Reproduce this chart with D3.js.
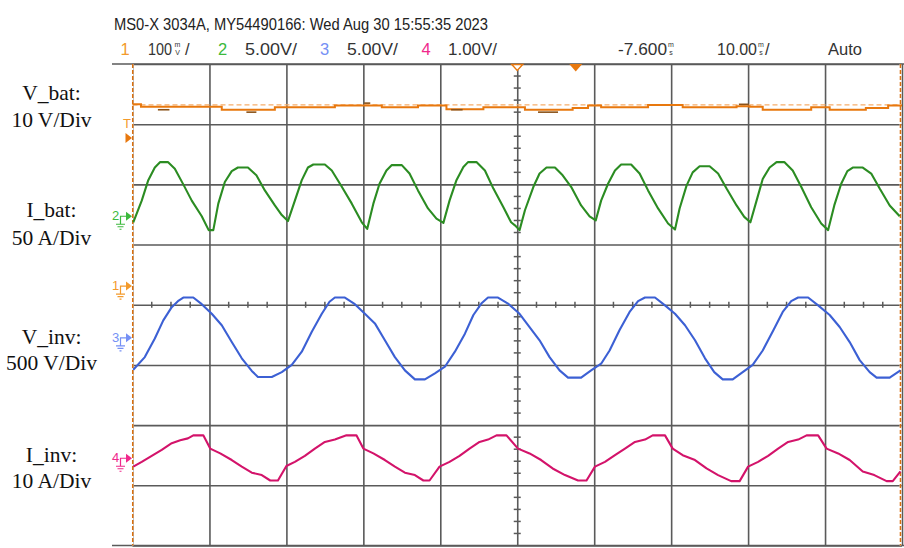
<!DOCTYPE html>
<html>
<head>
<meta charset="utf-8">
<script src="https://cdn.jsdelivr.net/npm/d3@7"></script>
<style>
  body { margin: 0; background: #fff; }
  svg { display: block; }
</style>
</head>
<body>
<svg width="904" height="548"></svg>
<script>
// time in ms across the screen (10 ms/div), values in screen divisions
const vBat = [[0,3.33],[1.1,3.29],[11.6,3.24],[18.5,3.28],[26.3,3.31],[32.4,3.28],[37.1,3.31],[40.8,3.25],[45.6,3.28],[51.0,3.24],[57.2,3.27],[59.2,3.31],[60.9,3.28],[67.0,3.32],[71.5,3.28],[78.5,3.30],[80.2,3.29],[81.9,3.24],[88.2,3.28],[90.6,3.24],[95.3,3.27],[98.2,3.31],[100,3.31]];
const vBatDark = [[3.3,4.8,3.24],[14.8,16.1,3.20],[30.1,30.9,3.35],[41.4,42.9,3.24],[52.7,55.3,3.20],[78.8,80.1,3.33]];
const vBatRef = 3.32;

const iBat = [[0.1,1.37],[1.2,1.73],[2.05,2.07],[2.9,2.28],[3.6,2.37],[4.6,2.37],[5.5,2.26],[6.6,2.0],[7.7,1.73],[9.0,1.47],[9.9,1.24],[10.5,1.24],[11.15,1.68],[12.0,2.04],[12.9,2.22],[13.7,2.28],[15.0,2.28],[16.1,2.15],[17.2,1.9],[18.5,1.65],[19.4,1.49],[20.2,1.39],[21.1,1.73],[22.0,2.07],[22.8,2.28],[23.5,2.33],[25.0,2.33],[25.9,2.23],[27.2,1.96],[28.5,1.68],[29.8,1.37],[30.5,1.26],[31.3,1.68],[32.1,2.01],[33.0,2.23],[33.7,2.32],[35.0,2.32],[36.0,2.18],[37.1,1.90],[38.4,1.60],[39.5,1.43],[40.4,1.36],[41.2,1.73],[42.1,2.07],[43.0,2.29],[43.6,2.37],[44.7,2.37],[45.8,2.23],[46.9,1.93],[48.2,1.62],[49.2,1.37],[49.7,1.32],[50.3,1.24],[51.0,1.57],[52.1,1.96],[52.9,2.18],[53.8,2.28],[54.9,2.28],[55.9,2.15],[57.0,1.96],[58.3,1.65],[59.4,1.47],[60.2,1.40],[60.9,1.73],[61.8,2.01],[62.7,2.23],[63.5,2.33],[64.8,2.33],[65.9,2.18],[67.0,1.90],[68.3,1.60],[69.6,1.35],[70.5,1.25],[71.1,1.60],[72.0,1.98],[72.8,2.20],[73.7,2.30],[75.0,2.30],[76.1,2.18],[77.2,1.93],[78.5,1.65],[79.5,1.46],[80.3,1.37],[81.1,1.73],[81.9,2.09],[82.8,2.28],[83.7,2.37],[84.7,2.37],[85.8,2.23],[86.9,1.96],[88.2,1.62],[89.5,1.35],[90.4,1.24],[91.2,1.65],[92.1,2.01],[92.9,2.22],[93.6,2.28],[94.9,2.28],[96.0,2.18],[97.1,1.93],[98.4,1.65],[99.7,1.47]];

const vInv = [[0.1,-1.08],[1.6,-0.87],[2.9,-0.56],[4.0,-0.26],[5.1,-0.04],[6.0,0.07],[6.6,0.12],[7.9,0.12],[9.0,0.01],[10.3,-0.15],[11.6,-0.34],[12.9,-0.62],[14.2,-0.89],[15.5,-1.10],[16.3,-1.20],[18.1,-1.20],[19.4,-1.12],[20.7,-1.00],[22.0,-0.78],[23.3,-0.45],[24.6,-0.15],[25.6,0.05],[26.3,0.12],[27.6,0.12],[28.9,0.01],[30.2,-0.15],[31.5,-0.31],[32.8,-0.59],[34.1,-0.87],[35.4,-1.09],[36.7,-1.24],[38.0,-1.24],[39.3,-1.14],[40.6,-1.03],[41.9,-0.78],[43.2,-0.48],[44.3,-0.17],[45.4,0.03],[46.2,0.12],[47.5,0.12],[48.8,0.02],[50.3,-0.15],[51.6,-0.37],[52.9,-0.59],[54.2,-0.87],[55.5,-1.09],[56.6,-1.21],[58.3,-1.21],[59.6,-1.09],[60.9,-0.98],[62.0,-0.76],[63.3,-0.42],[64.6,-0.12],[65.7,0.06],[66.6,0.12],[67.9,0.12],[69.2,-0.01],[70.5,-0.15],[71.8,-0.34],[73.1,-0.59],[74.4,-0.89],[75.6,-1.12],[76.7,-1.24],[78.0,-1.24],[79.3,-1.12],[80.6,-1.00],[81.9,-0.76],[83.3,-0.42],[84.5,-0.12],[85.6,0.06],[86.5,0.12],[87.8,0.12],[89.1,-0.01],[90.6,-0.17],[91.9,-0.37],[93.2,-0.62],[94.5,-0.92],[95.8,-1.12],[96.7,-1.21],[98.4,-1.21],[99.8,-1.09]];

const iInv = [[0.1,-2.69],[1.2,-2.61],[2.5,-2.51],[3.8,-2.41],[5.1,-2.30],[6.2,-2.25],[7.2,-2.22],[7.9,-2.17],[9.2,-2.17],[10.1,-2.39],[11.4,-2.47],[12.9,-2.58],[14.2,-2.69],[15.5,-2.79],[16.8,-2.83],[17.9,-2.92],[18.9,-2.92],[20.0,-2.68],[21.1,-2.61],[22.4,-2.51],[23.7,-2.39],[25.0,-2.28],[26.3,-2.24],[27.8,-2.17],[29.1,-2.17],[30.0,-2.39],[31.3,-2.47],[32.8,-2.58],[34.1,-2.69],[35.4,-2.79],[36.7,-2.83],[37.8,-2.92],[38.6,-2.92],[39.9,-2.69],[41.2,-2.61],[42.5,-2.51],[43.8,-2.39],[45.1,-2.28],[46.2,-2.24],[47.3,-2.17],[48.6,-2.17],[50.1,-2.39],[51.6,-2.47],[53.1,-2.58],[54.6,-2.72],[56.2,-2.83],[57.9,-2.92],[59.0,-2.92],[60.1,-2.69],[61.4,-2.61],[62.7,-2.50],[64.0,-2.39],[65.3,-2.28],[66.6,-2.24],[67.6,-2.17],[69.2,-2.17],[70.2,-2.39],[71.5,-2.50],[73.1,-2.58],[74.6,-2.72],[76.1,-2.83],[77.8,-2.93],[78.9,-2.93],[80.0,-2.69],[81.3,-2.61],[82.6,-2.51],[83.9,-2.39],[85.2,-2.28],[86.5,-2.24],[87.6,-2.17],[89.1,-2.17],[90.2,-2.39],[91.7,-2.47],[93.2,-2.58],[94.9,-2.77],[96.4,-2.83],[98.0,-2.93],[98.8,-2.93],[99.8,-2.77]];

// channel ground markers (division) and trigger level
const channels = ["1", "2", "3", "4"];
const chColors = ["#f39a2c", "#3cb93c", "#7590f5", "#f0288c"];
const traceColors = ["#e8780e", "#2b8c22", "#3c60d4", "#d3136a"];
const chGround = [0.31, 1.47, -0.55, -2.55];
const trigLevel = 2.77;
const delayMs = 7.6;

const header = "MS0-X 3034A, MY54490166: Wed Aug 30 15:55:35 2023";
const scaleTexts = ["100", "5.00V/", "5.00V/", "1.00V/"];
const labels = [["V_bat:", "10 V/Div"], ["I_bat:", "50 A/Div"], ["V_inv:", "500 V/Div"], ["I_inv:", "10 A/Div"]];

const svg = d3.select("svg");

const x = d3.scaleLinear().domain([0, 100]).range([132.5, 902]);
const y = d3.scaleLinear().domain([-4, 4]).range([545.5, 64]);

const gridColor = "#5a5a5a";

// grid via axes
const gx = svg.append("g")
    .attr("transform", `translate(0,${y(-4)})`)
    .call(d3.axisTop(x).tickValues(d3.range(0, 101, 10)).tickSize(y(-4) - y(4)).tickFormat(""));
const gy = svg.append("g")
    .attr("transform", `translate(${x(0)},0)`)
    .call(d3.axisRight(y).tickValues(d3.range(-4, 5, 1)).tickSize(x(100) - x(0)).tickFormat(""));
[gx, gy].forEach(g => {
    g.select(".domain").remove();
    g.selectAll("line").attr("stroke", gridColor).attr("stroke-width", 1.6);
});

// top and bottom borders extend left
svg.append("g")
    .selectAll("line")
    .data([4, -4])
    .join("line")
    .attr("x1", 112).attr("x2", 904)
    .attr("y1", d => y(d)).attr("y2", d => y(d))
    .attr("stroke", gridColor).attr("stroke-width", 1.6);

// minor ticks on centre lines
svg.append("g")
    .selectAll("line")
    .data(d3.range(-4, 4.01, 0.2).filter(d => Math.abs(d - Math.round(d)) > 0.01))
    .join("line")
    .attr("x1", x(50) - 3.5).attr("x2", x(50) + 3.5)
    .attr("y1", d => y(d)).attr("y2", d => y(d))
    .attr("stroke", gridColor).attr("stroke-width", 1.5);
svg.append("g")
    .selectAll("line")
    .data(d3.range(0, 100.01, 2.5).filter(d => d % 10 !== 0))
    .join("line")
    .attr("x1", d => x(d)).attr("x2", d => x(d))
    .attr("y1", y(0) - 3).attr("y2", y(0) + 3)
    .attr("stroke", gridColor).attr("stroke-width", 1.5);

// orange cursor lines at the screen edges
svg.append("g")
    .selectAll("line")
    .data([0.03, 99.8])
    .join("line")
    .attr("x1", d => x(d)).attr("x2", d => x(d))
    .attr("y1", y(4)).attr("y2", y(-4))
    .attr("stroke", "#ffffff").attr("stroke-width", 1.6);
svg.append("g")
    .selectAll("line")
    .data([0.03, 99.8])
    .join("line")
    .attr("x1", d => x(d)).attr("x2", d => x(d))
    .attr("y1", y(4)).attr("y2", y(-4))
    .attr("stroke", "#d9700f").attr("stroke-width", 1.5)
    .attr("stroke-dasharray", "4,2");

// V_bat reference dashed line
svg.append("line")
    .attr("x1", x(0)).attr("x2", x(100))
    .attr("y1", y(vBatRef)).attr("y2", y(vBatRef))
    .attr("stroke", "#f6ad6a").attr("stroke-width", 1.3)
    .attr("stroke-dasharray", "5,3");

const line = d3.line().x(d => x(d[0])).y(d => y(d[1]));
const stepLine = d3.line().x(d => x(d[0])).y(d => y(d[1])).curve(d3.curveStepAfter);

svg.append("path")
    .datum(vBat)
    .attr("d", stepLine)
    .attr("fill", "none")
    .attr("stroke", traceColors[0])
    .attr("stroke-width", 2);

svg.append("g")
    .selectAll("line")
    .data(vBatDark)
    .join("line")
    .attr("x1", d => x(d[0])).attr("x2", d => x(d[1]))
    .attr("y1", d => y(d[2])).attr("y2", d => y(d[2]))
    .attr("stroke", "#8a5218").attr("stroke-width", 1.6);

[iBat, vInv, iInv].forEach((data, i) => {
    svg.append("path")
        .datum(data)
        .attr("d", line)
        .attr("fill", "none")
        .attr("stroke", traceColors[i + 1])
        .attr("stroke-width", 2.1)
        .attr("stroke-linejoin", "round");
});

// ground markers on the left
const gm = svg.append("g")
    .selectAll("g")
    .data(channels)
    .join("g")
    .attr("transform", (d, i) => `translate(0,${y(chGround[i])})`)
    .attr("fill", (d, i) => chColors[i])
    .attr("stroke", (d, i) => chColors[i]);
gm.append("text")
    .attr("x", 112).attr("y", 4)
    .attr("stroke", "none")
    .attr("font-family", "Liberation Sans Narrow, Liberation Sans, sans-serif")
    .attr("font-size", 13)
    .text(d => d);
gm.append("path")
    .attr("d", "M126,-4.5L132,0L126,4.5Z")
    .attr("stroke", "none");
gm.append("path")
    .attr("d", "M126,0H120.5V8M116,8H125M117.5,10.5H123.5M119.5,13H121.5")
    .attr("fill", "none")
    .attr("stroke-width", 1.2);

// trigger level marker
const trig = svg.append("g").attr("transform", `translate(0,${y(trigLevel)})`);
trig.append("text")
    .attr("x", 127).attr("y", -10)
    .attr("text-anchor", "middle")
    .attr("font-family", "Liberation Sans, sans-serif")
    .attr("font-size", 13)
    .attr("fill", chColors[0])
    .text("T");
trig.append("path")
    .attr("d", "M125.5,-5L132,0L125.5,5Z")
    .attr("fill", traceColors[0]);

// top markers: screen centre and trigger point
svg.append("path")
    .attr("d", `M${x(50) - 5.5},${y(4) + 0.5}L${x(50) + 5.5},${y(4) + 0.5}L${x(50)},${y(4) + 6.5}Z`)
    .attr("fill", "#fff").attr("stroke", traceColors[0]).attr("stroke-width", 1.4);
svg.append("path")
    .attr("d", `M${x(50 + delayMs) - 6.5},${y(4)}L${x(50 + delayMs) + 6.5},${y(4)}L${x(50 + delayMs)},${y(4) + 7.5}Z`)
    .attr("fill", traceColors[0]);

// header
const narrow = "Liberation Sans Narrow, Liberation Sans, Arial, sans-serif";
svg.append("text")
    .attr("x", 114).attr("y", 30)
    .attr("font-family", narrow).attr("font-size", 16.5)
    .attr("fill", "#222")
    .attr("textLength", 374).attr("lengthAdjust", "spacingAndGlyphs")
    .text(header);

const chNumX = [120.5, 218, 320, 421.5];
const scaleX = [[148, 24], [245, 52], [347, 51], [448, 49]];
const row = svg.append("g").attr("font-family", narrow).attr("font-size", 16.5);
row.selectAll(".num")
    .data(channels)
    .join("text")
    .attr("x", (d, i) => chNumX[i]).attr("y", 55)
    .attr("fill", (d, i) => chColors[i])
    .text(d => d);
row.selectAll(".sc")
    .data(scaleTexts)
    .join("text")
    .attr("x", (d, i) => scaleX[i][0]).attr("y", 55)
    .attr("fill", "#333")
    .attr("textLength", (d, i) => scaleX[i][1]).attr("lengthAdjust", "spacingAndGlyphs")
    .text(d => d);

function stacked(xc, top, bottom) {
    row.append("text").attr("x", xc).attr("y", 47).attr("text-anchor", "middle")
        .attr("font-size", 7).attr("fill", "#333").text(top);
    row.append("text").attr("x", xc).attr("y", 55).attr("text-anchor", "middle")
        .attr("font-size", 7).attr("fill", "#333").text(bottom);
}
stacked(177.5, "m", "V");
row.append("text").attr("x", 185).attr("y", 55).attr("fill", "#333").text("/");
row.append("text").attr("x", 618).attr("y", 55).attr("fill", "#333")
    .attr("textLength", 49).attr("lengthAdjust", "spacingAndGlyphs").text("-7.600");
stacked(671, "m", "s");
row.append("text").attr("x", 717).attr("y", 55).attr("fill", "#333")
    .attr("textLength", 40).attr("lengthAdjust", "spacingAndGlyphs").text("10.00");
stacked(761, "m", "s");
row.append("text").attr("x", 765).attr("y", 55).attr("fill", "#333").text("/");
row.append("text").attr("x", 828).attr("y", 55).attr("fill", "#333")
    .attr("textLength", 34).attr("lengthAdjust", "spacingAndGlyphs").text("Auto");

// channel descriptions on the left
const labelY = [[99.5, 127], [217, 245], [343.5, 370], [461.5, 488]];
const lab = svg.append("g")
    .attr("font-family", "Liberation Serif, Times New Roman, serif")
    .attr("font-size", 21.5)
    .attr("fill", "#111")
    .attr("text-anchor", "middle");
labels.forEach((pair, i) => {
    pair.forEach((t, j) => {
        lab.append("text").attr("x", 51.5).attr("y", labelY[i][j]).text(t);
    });
});
</script>
</body>
</html>
